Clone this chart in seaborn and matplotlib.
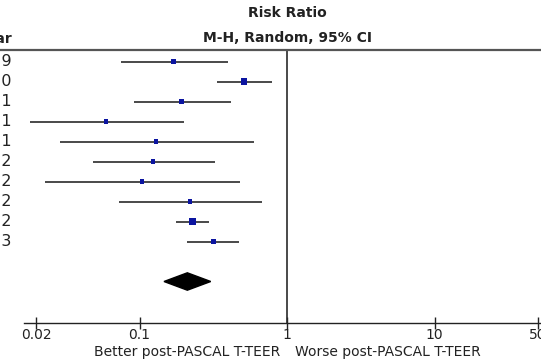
import matplotlib
matplotlib.use("Agg")
import matplotlib.pyplot as plt
import matplotlib.transforms as mtransforms
from matplotlib.lines import Line2D
from matplotlib.ticker import FixedLocator, FixedFormatter, NullLocator
import seaborn as sns
import pandas as pd

# ---- data ----
years = ["2019", "2020", "2021", "2021", "2021", "2022", "2022", "2022", "2022", "2023"]
rr = [0.171, 0.513, 0.193, 0.0593, 0.129, 0.124, 0.1045, 0.220, 0.230, 0.316]
ci_low = [0.0746, 0.337, 0.0922, 0.0181, 0.0289, 0.0482, 0.0229, 0.0730, 0.176, 0.211]
ci_high = [0.400, 0.788, 0.417, 0.200, 0.597, 0.325, 0.480, 0.674, 0.297, 0.475]
weights = [10.4, 15.0, 10.4, 6.7, 6.7, 6.7, 6.7, 6.7, 20.4, 10.4]
total_rr = 0.211
total_low = 0.1466
total_high = 0.304
tick_values = [0.02, 0.1, 1, 10, 50]
tick_labels = ["0.02", "0.1", "1", "10", "50"]

W, H = 541, 360
sns.set_theme(style="white")
plt.rcParams["font.family"] = ["DejaVu Sans"]

fig = plt.figure(figsize=(W / 100, H / 100), dpi=100)
fig.patch.set_facecolor("white")

def px(x):
    return x / W

def py(y):
    return 1 - y / H

ax_left, ax_top, ax_bottom = 24, 50, 323
ax = fig.add_axes([px(ax_left), py(ax_bottom), 1 - px(ax_left), (ax_bottom - ax_top) / H])
ax.set_facecolor("white")

rows = list(range(len(years)))
df = pd.DataFrame({"row": rows, "rr": rr, "low": ci_low, "high": ci_high, "w": weights})

# CI lines
ax.hlines(df["row"], df["low"], df["high"], color="#3a3a3a", lw=1.3, zorder=2)
# study markers
sns.scatterplot(data=df, x="rr", y="row", size="w", sizes=(9.0, 27.0), size_norm=(6.7, 20.4),
                marker="s", color="#0b14a0", edgecolor="#0b14a0", linewidth=0,
                legend=False, ax=ax, zorder=3)

# pooled diamond
total_row = len(years) + 1
hh = 0.435
ax.fill([total_low, total_rr, total_high, total_rr],
        [total_row, total_row - hh, total_row, total_row + hh], color="black", zorder=3)

ax.set_xscale("log")
xmin = 10 ** ((ax_left - 287) / 147.5)
xmax = 10 ** ((W - 287) / 147.5)
ax.set_xlim(xmin, xmax)
ax.set_ylim(13.075, -0.575)

ax.axvline(1, color="#2a2a2a", lw=1.2, zorder=1)

for s in ["top", "left", "right"]:
    ax.spines[s].set_visible(False)
ax.spines["bottom"].set_color("#222222")
ax.spines["bottom"].set_linewidth(1.0)

ax.xaxis.set_major_locator(FixedLocator(tick_values))
ax.xaxis.set_major_formatter(FixedFormatter(tick_labels))
ax.xaxis.set_minor_locator(NullLocator())
ax.tick_params(axis="x", which="major", direction="inout", length=9, width=1.0,
               color="#222222", labelsize=10, pad=-1, labelcolor="#222222", bottom=True)
ax.set_yticks([])
ax.set_xlabel("")
ax.set_ylabel("")

# header line
fig.add_artist(Line2D([0, 1], [py(50), py(50)], color="#555555", lw=1.6,
                      transform=fig.transFigure))

# year column (cropped at left edge, as in the reference)
tr = mtransforms.blended_transform_factory(fig.transFigure, ax.transData)
for i, yv in enumerate(years):
    ax.text(px(12.5), i, yv, transform=tr, ha="right", va="center", fontsize=11.5,
            color="#222222", clip_on=False)
fig.text(px(12), py(39), "Year", ha="right", va="center", fontsize=10,
         fontweight="bold", color="#222222")

# headers
fig.text(px(287), py(13), "Risk Ratio", ha="center", va="center", fontsize=10,
         fontweight="bold", color="#222222")
fig.text(px(287), py(38), "M-H, Random, 95% CI", ha="center", va="center", fontsize=10,
         fontweight="bold", color="#222222")

# direction labels
fig.text(px(280), py(352), "Better post-PASCAL T-TEER", ha="right", va="center",
         fontsize=10, color="#222222")
fig.text(px(295), py(352), "Worse post-PASCAL T-TEER", ha="left", va="center",
         fontsize=10, color="#222222")

fig.savefig("out.png", dpi=100, facecolor="white")
